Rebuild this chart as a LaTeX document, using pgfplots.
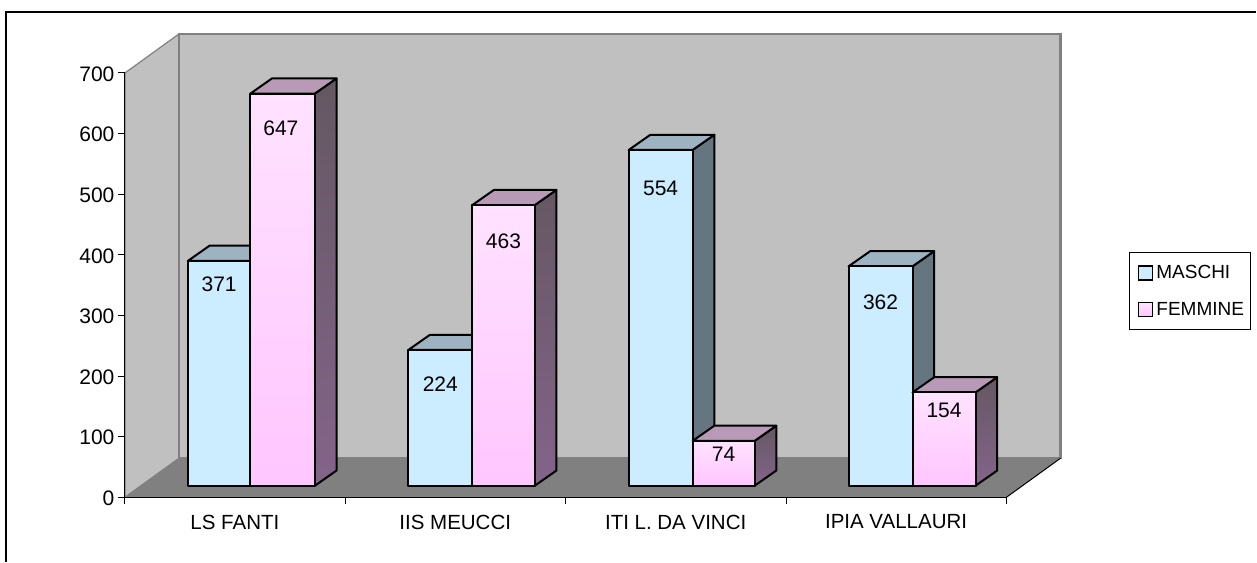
\documentclass[border=0pt]{standalone}
\usepackage{fontspec}
\setmainfont{Liberation Sans}
\usepackage{pgfplots}
\pgfplotsset{compat=1.18}
\definecolor{wall}{HTML}{C0C0C0}
\definecolor{floorc}{HTML}{808080}
\definecolor{blueF}{HTML}{CCECFF}
\definecolor{blueT}{HTML}{9DB3C1}
\definecolor{blueS}{HTML}{667680}
\definecolor{pinkFt}{HTML}{FFE2FF}
\definecolor{pinkFb}{HTML}{FFC6FF}
\definecolor{pinkT}{HTML}{B89AB6}
\definecolor{pinkSt}{HTML}{645862}
\definecolor{pinkSb}{HTML}{84648A}
\newcommand{\BarBlue}[3]{% x0, x1, value
  \pgfmathsetmacro\yb{#3+18.96}\pgfmathsetmacro\yB{18.96+25.1}\pgfmathsetmacro\yt{#3+18.96+25.1}
  \pgfmathsetmacro\xa{#2+21.7}\pgfmathsetmacro\xc{#1+21.7}
  \addplot[draw=black,line width=2pt,line join=round,fill=blueS] coordinates {(#2,18.96) (\xa,\yB) (\xa,\yt) (#2,\yb)} --cycle;
  \addplot[draw=black,line width=2pt,line join=round,fill=blueT] coordinates {(#1,\yb) (\xc,\yt) (\xa,\yt) (#2,\yb)} --cycle;
  \addplot[draw=black,line width=2pt,line join=round,fill=blueF] coordinates {(#1,18.96) (#2,18.96) (#2,\yb) (#1,\yb)} --cycle;
}
\newcommand{\BarPink}[3]{%
  \pgfmathsetmacro\yb{#3+18.96}\pgfmathsetmacro\yB{18.96+25.1}\pgfmathsetmacro\yt{#3+18.96+25.1}
  \pgfmathsetmacro\xa{#2+21.7}\pgfmathsetmacro\xc{#1+21.7}
  \addplot[draw=black,line width=2pt,line join=round,top color=pinkSt,bottom color=pinkSb] coordinates {(#2,18.96) (\xa,\yB) (\xa,\yt) (#2,\yb)} --cycle;
  \addplot[draw=black,line width=2pt,line join=round,fill=pinkT] coordinates {(#1,\yb) (\xc,\yt) (\xa,\yt) (#2,\yb)} --cycle;
  \addplot[draw=black,line width=2pt,line join=round,top color=pinkFt,bottom color=pinkFb] coordinates {(#1,18.96) (#2,18.96) (#2,\yb) (#1,\yb)} --cycle;
}
\begin{document}
\begin{tikzpicture}
\begin{axis}[
  scale only axis, width=882pt, height=424.5pt,
  xmin=125, xmax=1007, ymin=0, ymax=700,
  clip=false, axis on top,
  axis x line*=bottom, axis y line*=left,
  axis line style={black,line width=1pt,-},
  tick style={black,line width=1pt},
  tick align=outside, major tick length=7pt,
  xtick={125,345.5,566,786.5,1007}, xticklabels={},
  extra x ticks={235,455.5,676,896.5},
  extra x tick labels={LS FANTI,IIS MEUCCI,ITI L. DA VINCI,IPIA VALLAURI},
  extra x tick style={major tick length=0pt,tick style={draw=none},
     xticklabel style={yshift=-14pt,font=\fontsize{20.5}{24}\selectfont}},
  ytick={0,100,200,300,400,500,600,700},
  yticklabel style={yshift=-1pt,font=\fontsize{21}{24}\selectfont},
  /pgf/number format/assume math mode=true,
  every axis plot/.append style={forget plot},
  legend style={at={(axis cs:1129.5,404.8)},anchor=north west,draw=black,line width=1pt,
    font=\fontsize{19}{23}\selectfont,row sep=18pt,inner xsep=5pt,inner ysep=11pt,
    cells={anchor=west}},
]
% page and frame
\path[fill=white] (axis cs:0,820.4) rectangle (axis cs:1257,-106.4);
\addplot[black,line width=1.3pt] coordinates {(6,-106.4) (6,800.6) (1257,800.6)};
% walls and floor
\addplot[fill=wall,draw=floorc,line width=1.2pt] coordinates {(125,700) (179,764.3) (179,64.3) (125,0)} --cycle;
\addplot[fill=wall,draw=floorc,line width=2.4pt] coordinates {(179,64.3) (179,764.3) (1061,764.3) (1061,64.3)} --cycle;
\addplot[fill=floorc,draw=none] coordinates {(125,0) (179,64.3) (1061,64.3) (1007,0)} --cycle;
\addplot[black,line width=1pt] coordinates {(1007,0) (1061,64.3)};
% bars: x0, x1, value
\BarBlue{188}{250.5}{371}
\BarPink{250.5}{315}{647}
\BarBlue{408.5}{472.5}{224}
\BarPink{472.5}{535}{463}
\BarBlue{629}{693}{554}
\BarPink{693}{755}{74}
\BarBlue{849}{913}{362}
\BarPink{913}{976}{154}
% data labels
\addplot[draw=none,mark=none,nodes near coords,point meta=explicit symbolic,
  every node near coord/.style={anchor=center,inner sep=0pt,font=\fontsize{21}{24}\selectfont,text=black}]
  table[meta=v] {
x y v
219.25 352.1 371
281 609.3 647
440.5 187.2 224
503.75 423 463
661 510.4 554
724 71.7 74
881 322.4 362
944.5 142.6 154
};
\addlegendimage{legend image code/.code={\path[draw=none,fill=none] (-2pt,-7pt) rectangle (18pt,7pt);\draw[fill=blueF,draw=black,line width=1.5pt] (2pt,-7pt) rectangle (16pt,7pt);}}
\addlegendentry{MASCHI}
\addlegendimage{legend image code/.code={\path[draw=none,fill=none] (-2pt,-7pt) rectangle (18pt,7pt);\draw[top color=pinkFt,bottom color=pinkFb,draw=black,line width=1.5pt] (2pt,-7pt) rectangle (16pt,7pt);}}
\addlegendentry{FEMMINE}
\end{axis}
\end{tikzpicture}
\end{document}
